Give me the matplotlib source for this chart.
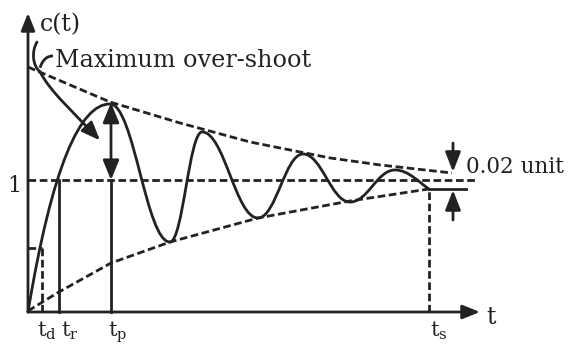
import matplotlib
matplotlib.use('Agg')
import matplotlib.pyplot as plt
from matplotlib.path import Path
from matplotlib.patches import PathPatch, FancyArrowPatch

################################################################################
# values (t in arbitrary units, c(t) normalised so 1 = final)
resp_t = [0.0, 0.82, 1.42, 1.74, 2.30, 2.75, 3.22, 3.67, 4.01]
resp_c = [0.0, 1.576, 0.530, 1.364, 0.712, 1.197, 0.833, 1.076, 0.932]
upper_t = [0.0, 0.82, 1.52, 2.22, 3.02, 3.52, 4.24]
upper_c = [1.856, 1.591, 1.432, 1.288, 1.167, 1.114, 1.053]
lower_t = [0.0, 0.31, 0.83, 1.42, 2.30, 3.22, 4.01]
lower_c = [0.008, 0.152, 0.371, 0.530, 0.712, 0.841, 0.932]
t_d, c_d = 0.14, 0.485
t_r = 0.31
t_p = 0.83
t_s = 4.01
tick_labels = [r'$\mathrm{t_d}$', r'$\mathrm{t_r}$', r'$\mathrm{t_p}$', r'$\mathrm{t_s}$']
tick_label_x = [0.09, 0.33, 0.80, 4.02]

INK = '#222222'
LW = 2.0
DASH = (0, (5.5, 2.6))

plt.rcParams['lines.scale_dashes'] = False
plt.rcParams['font.family'] = ['DejaVu Serif']
plt.rcParams['mathtext.fontset'] = 'dejavuserif'

fig = plt.figure(figsize=(5.7, 3.45), dpi=100)
ax = fig.add_axes([0, 0, 1, 1])
ax.set_xlim(-0.28, 5.42)
ax.set_ylim(-0.25, 2.3636)
ax.axis('off')

# ==========================================================================
# response curve: cubic segments with flat tangents at every extremum
verts = [(resp_t[0], resp_c[0]),
         (0.24, 1.10), (0.52, resp_c[1]), (resp_t[1], resp_c[1])]
codes = [Path.MOVETO, Path.CURVE4, Path.CURVE4, Path.CURVE4]
k = 0.40
for i in range(1, len(resp_t) - 1):
    t0, c0 = resp_t[i], resp_c[i]
    t1, c1 = resp_t[i + 1], resp_c[i + 1]
    dt = t1 - t0
    if i == len(resp_t) - 2:
        verts += [(t0 + k * dt, c0), (t1 - 0.3 * dt, c1 + 0.05), (t1, c1)]
    else:
        verts += [(t0 + k * dt, c0), (t1 - k * dt, c1), (t1, c1)]
    codes += [Path.CURVE4] * 3
ax.add_patch(PathPatch(Path(verts, codes), fill=False, lw=LW, ec=INK,
                       capstyle='round', joinstyle='round'))

# envelopes and final value
ax.plot(upper_t, upper_c, ls=DASH, lw=LW, color=INK)
ax.plot(lower_t, lower_c, ls=DASH, lw=LW, color=INK)
ax.plot([0, 4.49], [1, 1], ls=DASH, lw=LW, color=INK)

# delay / rise / peak / settling markers
ax.plot([0, t_d], [c_d, c_d], ls=DASH, lw=LW, color=INK)
ax.plot([t_d, t_d], [0, c_d], ls=DASH, lw=LW, color=INK)
ax.plot([t_r, t_r], [0, 1], lw=LW, color=INK)
ax.plot([t_p, t_p], [0, 1], lw=LW, color=INK)
ax.plot([t_s, t_s], [0, resp_c[-1]], ls=DASH, lw=LW, color=INK)
ax.plot([t_s, 4.38], [resp_c[-1], resp_c[-1]], lw=LW, color=INK)

# axes with arrow heads
ax_style = '-|>,head_length=0.75,head_width=0.3'
ax.annotate('', xy=(4.52, 0), xytext=(0, 0),
            arrowprops=dict(arrowstyle=ax_style, lw=LW, color=INK,
                            shrinkA=0, shrinkB=0, mutation_scale=14))
ax.annotate('', xy=(0, 2.265), xytext=(0, 0),
            arrowprops=dict(arrowstyle=ax_style, lw=LW, color=INK,
                            shrinkA=0, shrinkB=0, mutation_scale=14))

# overshoot double arrow
ax.annotate('', xy=(t_p, 1.585), xytext=(t_p, 1.0),
            arrowprops=dict(arrowstyle='<|-|>,head_length=0.85,head_width=0.35',
                            lw=LW, color=INK, shrinkA=0, shrinkB=0,
                            mutation_scale=14))

# 0.02 unit band arrows
ax.annotate('', xy=(4.25, 1.061), xytext=(4.25, 1.28),
            arrowprops=dict(arrowstyle='-|>,head_length=0.85,head_width=0.33',
                            lw=LW, color=INK, shrinkA=0, shrinkB=0,
                            mutation_scale=14))
ax.annotate('', xy=(4.25, 0.924), xytext=(4.25, 0.697),
            arrowprops=dict(arrowstyle='-|>,head_length=0.85,head_width=0.33',
                            lw=LW, color=INK, shrinkA=0, shrinkB=0,
                            mutation_scale=14))

# curved pointer from the label to the overshoot
pv = [(0.09, 2.045), (0.03, 1.97), (0.05, 1.86), (0.12, 1.82),
      (0.22, 1.67), (0.47, 1.50), (0.72, 1.30)]
pc = [Path.MOVETO] + [Path.CURVE4] * 6
ax.add_patch(FancyArrowPatch(path=Path(pv, pc),
                             arrowstyle='-|>,head_length=0.8,head_width=0.32',
                             lw=LW, color=INK, mutation_scale=14))
sv = [(0.12, 1.85), (0.15, 1.92), (0.20, 1.94), (0.25, 1.94)]
ax.add_patch(PathPatch(Path(sv, [Path.MOVETO] + [Path.CURVE4] * 3),
                       fill=False, lw=LW, ec=INK))

# ==========================================================================
ax.text(0.27, 1.856, 'Maximum over-shoot', fontsize=17.2, color=INK,
        ha='left', va='baseline')
ax.text(4.38, 1.053, '0.02 unit', fontsize=15.5, color=INK,
        ha='left', va='baseline')
ax.text(0.12, 2.174, 'c(t)', fontsize=17, color=INK, ha='left', va='center')
ax.text(4.58, -0.04, 't', fontsize=17, color=INK, ha='left', va='center')
ax.text(-0.07, 0.909, '1', fontsize=16, color=INK, ha='right', va='baseline')
for x, lab in zip(tick_label_x, tick_labels):
    ax.text(x, -0.185, lab, fontsize=15, color=INK, ha='left',
            va='baseline')

fig.savefig('out.png', dpi=100)
